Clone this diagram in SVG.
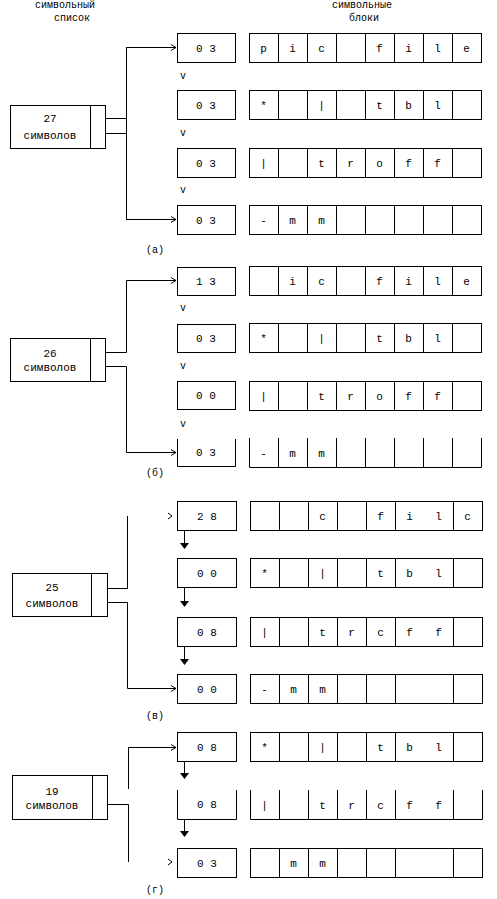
<svg xmlns="http://www.w3.org/2000/svg" xmlns:xlink="http://www.w3.org/1999/xlink" width="497" height="899" viewBox="0 0 497 899">
<style>
.b{fill:#fff;stroke:#000;stroke-width:1}
.o{fill:none;stroke:#000;stroke-width:1}
.t{font-family:"Liberation Mono",monospace;font-size:11px;text-anchor:middle;fill:#000}
.h{font-family:"Liberation Mono",monospace;font-size:10px;text-anchor:middle;fill:#000}
.c{fill:none;stroke:#000;stroke-width:1}
</style>
<defs>
<marker id="ar" markerWidth="8" markerHeight="8" refX="6" refY="4" orient="auto" markerUnits="userSpaceOnUse"><path d="M1,1 L6,4 L1,7" fill="none" stroke="#000"/></marker>
<g id="row8"><rect class="b" x="0.5" y="0.5" width="232" height="29"/><path class="o" d="M29.5,0.5V29.5M58.5,0.5V29.5M87.5,0.5V29.5M116.5,0.5V29.5M145.5,0.5V29.5M174.5,0.5V29.5M203.5,0.5V29.5"/></g>
<g id="row8o"><path class="o" d="M0.5,0V29.5H232.5V0M29.5,0V29.5M58.5,0V29.5M87.5,0V29.5M116.5,0V29.5M145.5,0V29.5M174.5,0V29.5M203.5,0V29.5"/></g>
<g id="row7"><rect class="b" x="0.5" y="0.5" width="232" height="29"/><path class="o" d="M29.5,0.5V29.5M58.5,0.5V29.5M87.5,0.5V29.5M116.5,0.5V29.5M145.5,0.5V29.5M203.5,0.5V29.5"/></g>
<g id="row7o"><path class="o" d="M0.5,0V29.5H232.5V0M29.5,0V29.5M58.5,0V29.5M87.5,0V29.5M116.5,0V29.5M145.5,0V29.5M203.5,0V29.5"/></g>
</defs>
<rect width="497" height="899" fill="#fff"/>

<text class="h" x="65" y="8">символьный</text>
<text class="h" x="72" y="21">список</text>
<text class="h" x="362" y="8">символьные</text>
<text class="h" x="364" y="21">блоки</text>

<!-- (а) -->
<g id="a-list"><rect class="b" x="10.5" y="105.5" width="95" height="43"/><path class="o" d="M90.5,105.5V148.5"/><text class="t" x="50" y="122">27</text><text class="t" x="50" y="139">символов</text></g>
<g id="a-n1"><rect class="b" x="177.5" y="33.5" width="58" height="29"/><text class="t" x="206" y="52">0 3</text></g>
<g id="a-n2"><rect class="b" x="177.5" y="90.5" width="58" height="29"/><text class="t" x="206" y="109">0 3</text></g>
<g id="a-n3"><rect class="b" x="177.5" y="148.5" width="58" height="29"/><text class="t" x="206" y="167">0 3</text></g>
<g id="a-n4"><rect class="b" x="177.5" y="205.5" width="58" height="29"/><text class="t" x="206" y="224">0 3</text></g>
<g id="a-b1"><use xlink:href="#row8" x="249" y="33"/><text class="t" y="52"><tspan x="263.5">p</tspan><tspan x="292.5">i</tspan><tspan x="321.5">c</tspan><tspan x="379.5">f</tspan><tspan x="408.5">i</tspan><tspan x="437.5">l</tspan><tspan x="466.5">e</tspan></text></g>
<g id="a-b2"><use xlink:href="#row8" x="249" y="90"/><text class="t" y="109"><tspan x="263.5">*</tspan><tspan x="321.5">|</tspan><tspan x="379.5">t</tspan><tspan x="408.5">b</tspan><tspan x="437.5">l</tspan></text></g>
<g id="a-b3"><use xlink:href="#row8" x="249" y="148"/><text class="t" y="167"><tspan x="263.5">|</tspan><tspan x="321.5">t</tspan><tspan x="350.5">r</tspan><tspan x="379.5">o</tspan><tspan x="408.5">f</tspan><tspan x="437.5">f</tspan></text></g>
<g id="a-b4"><use xlink:href="#row8" x="249" y="205"/><text class="t" y="224"><tspan x="263.5">-</tspan><tspan x="292.5">m</tspan><tspan x="321.5">m</tspan></text></g>
<text class="h" x="183" y="79">v</text>
<text class="h" x="183" y="136">v</text>
<text class="h" x="183" y="193">v</text>
<text class="h" x="155" y="253">(а)</text>

<!-- (б) -->
<g id="b-list"><rect class="b" x="10.5" y="338.5" width="95" height="43"/><path class="o" d="M90.5,338.5V381.5"/><text class="t" x="50" y="357">26</text><text class="t" x="50" y="371">символов</text></g>
<g id="b-n1"><rect class="b" x="177.5" y="267.5" width="58" height="28"/><text class="t" x="206" y="285">1 3</text></g>
<g id="b-n2"><rect class="b" x="177.5" y="324.5" width="58" height="28"/><text class="t" x="206" y="342">0 3</text></g>
<g id="b-n3"><rect class="b" x="177.5" y="381.5" width="58" height="28"/><text class="t" x="206" y="399">0 0</text></g>
<g id="b-n4"><path class="o" d="M177.5,439V466.5H235.5V439"/><text class="t" x="206" y="456">0 3</text></g>
<g id="b-b1"><use xlink:href="#row8" x="249" y="266"/><text class="t" y="285"><tspan x="292.5">i</tspan><tspan x="321.5">c</tspan><tspan x="379.5">f</tspan><tspan x="408.5">i</tspan><tspan x="437.5">l</tspan><tspan x="466.5">e</tspan></text></g>
<g id="b-b2"><use xlink:href="#row8" x="249" y="323"/><text class="t" y="342"><tspan x="263.5">*</tspan><tspan x="321.5">|</tspan><tspan x="379.5">t</tspan><tspan x="408.5">b</tspan><tspan x="437.5">l</tspan></text></g>
<g id="b-b3"><use xlink:href="#row8" x="249" y="381"/><text class="t" y="400"><tspan x="263.5">|</tspan><tspan x="321.5">t</tspan><tspan x="350.5">r</tspan><tspan x="379.5">o</tspan><tspan x="408.5">f</tspan><tspan x="437.5">f</tspan></text></g>
<g id="b-b4"><use xlink:href="#row8o" x="249" y="438"/><text class="t" y="457"><tspan x="263.5">-</tspan><tspan x="292.5">m</tspan><tspan x="321.5">m</tspan></text></g>
<text class="h" x="183" y="311">v</text>
<text class="h" x="183" y="369">v</text>
<text class="h" x="183" y="427">v</text>
<text class="h" x="155" y="476">(б)</text>

<!-- (в) -->
<g id="c-list"><rect class="b" x="12.5" y="573.5" width="95" height="43"/><path class="o" d="M91.5,573.5V616.5"/><text class="t" x="52" y="591">25</text><text class="t" x="52" y="607">символов</text></g>
<g id="c-n1"><rect class="b" x="177.5" y="501.5" width="59" height="29"/><text class="t" x="207" y="520">2 8</text></g>
<g id="c-n2"><rect class="b" x="177.5" y="558.5" width="59" height="29"/><text class="t" x="207" y="577">0 0</text></g>
<g id="c-n3"><rect class="b" x="177.5" y="617.5" width="59" height="29"/><text class="t" x="207" y="636">0 8</text></g>
<g id="c-n4"><rect class="b" x="177.5" y="674.5" width="59" height="29"/><text class="t" x="207" y="693">0 0</text></g>
<g id="c-b1"><use xlink:href="#row7" x="250" y="501"/><text class="t" y="520"><tspan x="322.5">c</tspan><tspan x="380.5">f</tspan><tspan x="409.5">i</tspan><tspan x="438.5">l</tspan><tspan x="467.5">c</tspan></text></g>
<g id="c-b2"><use xlink:href="#row7" x="250" y="558"/><text class="t" y="577"><tspan x="264.5">*</tspan><tspan x="322.5">|</tspan><tspan x="380.5">t</tspan><tspan x="409.5">b</tspan><tspan x="438.5">l</tspan></text></g>
<g id="c-b3"><use xlink:href="#row7" x="250" y="617"/><text class="t" y="636"><tspan x="264.5">|</tspan><tspan x="322.5">t</tspan><tspan x="351.5">r</tspan><tspan x="380.5">c</tspan><tspan x="409.5">f</tspan><tspan x="438.5">f</tspan></text></g>
<g id="c-b4"><use xlink:href="#row7" x="250" y="674"/><text class="t" y="693"><tspan x="264.5">-</tspan><tspan x="293.5">m</tspan><tspan x="322.5">m</tspan></text></g>
<text class="h" x="155" y="719">(в)</text>

<!-- (г) -->
<g id="d-list"><rect class="b" x="12.5" y="775.5" width="95" height="44"/><path class="o" d="M92.5,775.5V819.5"/><text class="t" x="52" y="795">19</text><text class="t" x="52" y="809">символов</text></g>
<g id="d-n1"><rect class="b" x="177.5" y="732.5" width="59" height="29"/><text class="t" x="207" y="751">0 8</text></g>
<g id="d-n2"><path class="o" d="M177.5,790V819.5H236.5V790"/><text class="t" x="207" y="808">0 8</text></g>
<g id="d-n3"><rect class="b" x="177.5" y="848.5" width="59" height="29"/><text class="t" x="207" y="867">0 3</text></g>
<g id="d-b1"><use xlink:href="#row7" x="250" y="732"/><text class="t" y="751"><tspan x="264.5">*</tspan><tspan x="322.5">|</tspan><tspan x="380.5">t</tspan><tspan x="409.5">b</tspan><tspan x="438.5">l</tspan></text></g>
<g id="d-b2"><use xlink:href="#row7o" x="250" y="790"/><text class="t" y="809"><tspan x="264.5">|</tspan><tspan x="322.5">t</tspan><tspan x="351.5">r</tspan><tspan x="380.5">c</tspan><tspan x="409.5">f</tspan><tspan x="438.5">f</tspan></text></g>
<g id="d-b3"><use xlink:href="#row7" x="250" y="848"/><text class="t" y="867"><tspan x="293.5">m</tspan><tspan x="322.5">m</tspan></text></g>
<text class="h" x="155" y="893">(г)</text>

<!-- connectors -->
<g id="connectors">
<path class="c" d="M105,118.5H126.5M105,133.5H126.5M126.5,47V220"/>
<path class="c" d="M126.5,47.5H176" marker-end="url(#ar)"/>
<path class="c" d="M126.5,219.5H176" marker-end="url(#ar)"/>
<path class="c" d="M105,352.5H126.5V280.5H176" marker-end="url(#ar)"/>
<path class="c" d="M105,366.5H126.5V452.5H176" marker-end="url(#ar)"/>
<path class="c" d="M127.5,516V588.5H107"/>
<path class="c" d="M107,602.5H127.5V688.5H176" marker-end="url(#ar)"/>
<path class="c" d="M168,513L172,516L168,519"/>
<path class="c" d="M184.5,530V545M184.5,588V604M184.5,646V662"/>
<path d="M180,543H189L184.5,549Z M180,601H189L184.5,607Z M180,659H189L184.5,665Z" fill="#000"/>
<path class="c" d="M128.5,789V747.5H176" marker-end="url(#ar)"/>
<path class="c" d="M107,804.5H128.5V862"/>
<path class="c" d="M168,859L172,862L168,865"/>
<path class="c" d="M184.5,761V775M184.5,819V833"/>
<path d="M180,773H189L184.5,779Z M180,831H189L184.5,837Z" fill="#000"/>
</g>
</svg>
